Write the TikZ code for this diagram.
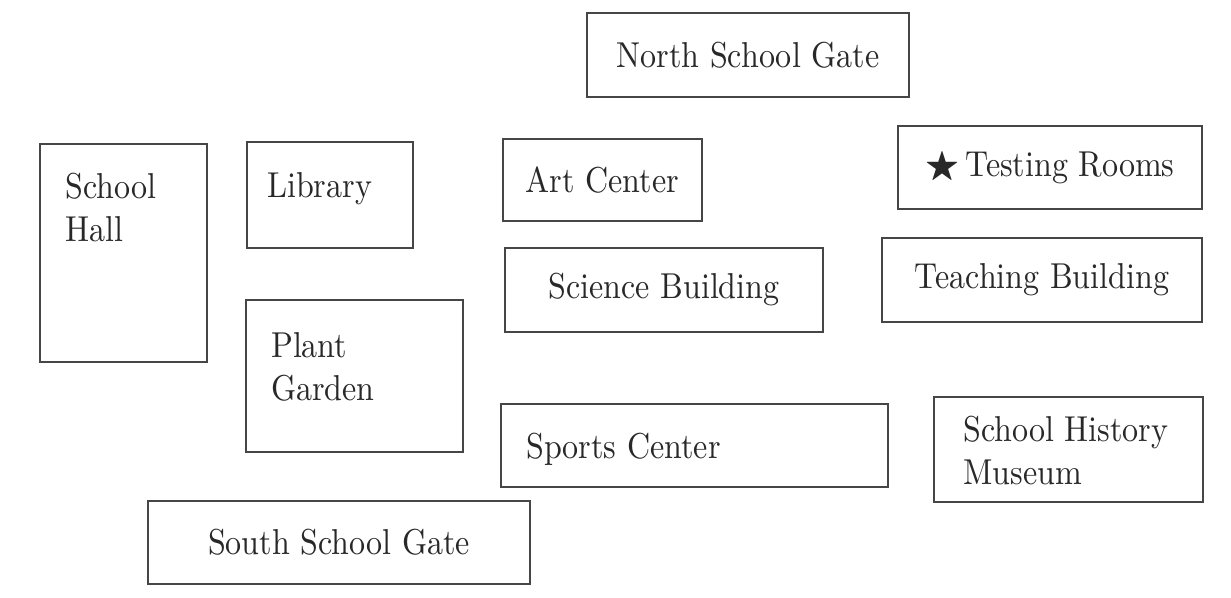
\documentclass[tikz,border=0pt]{standalone}
\usepackage{amssymb}
\usepackage{fontspec}
\setmainfont{lmroman10-regular}[Extension=.otf, FakeStretch=0.89]
\usetikzlibrary{positioning}
\definecolor{mapline}{RGB}{70,70,70}
\definecolor{maptext}{RGB}{40,40,40}

\begin{document}
\begin{tikzpicture}[x=1pt, y=-1pt,
  bldg/.style={draw=mapline, line width=1.4pt, inner sep=0pt, align=center,
    text=maptext, font=\fontsize{36}{43}\selectfont},
  lbl/.style={inner sep=0pt, align=left, text=maptext,
    font=\fontsize{36}{43}\selectfont}
]
  \useasboundingbox (0,0) rectangle (1231,597);

  \node[bldg, minimum width=322, minimum height=84] (north) at (748,55) {North School Gate};
  \node[bldg, minimum width=167, minimum height=218] (hall) at (123.5,253) {};
  \node[bldg, minimum width=166, minimum height=106] (library) at (330,195) {};
  \node[bldg, minimum width=199, minimum height=82] (art) at (602.5,180) {Art Center};
  \node[bldg, minimum width=304, minimum height=83] (testing) at (1050,167.5) {$\bigstar$\,Testing Rooms};
  \node[bldg, minimum width=318, minimum height=84] (science) at (664,290) {Science Building};
  \node[bldg, minimum width=320, minimum height=84] (teaching) at (1042,280) {Teaching Building};
  \node[bldg, minimum width=217, minimum height=152] (garden) at (354.5,376) {};
  \node[bldg, minimum width=387, minimum height=83] (sports) at (694.5,445.5) {};
  \node[bldg, minimum width=269, minimum height=105] (museum) at (1068.5,449.5) {};
  \node[bldg, minimum width=382, minimum height=83] (south) at (339,542.5) {South School Gate};

  % left-set names
  \node[lbl, anchor=north west] (hallname) at (65,173) {School\\Hall};
  \node[lbl, anchor=base west] (libname) at (267,197) {Library};
  \node[lbl, anchor=north west] (gardenname) at (271,332) {Plant\\Garden};
  \node[lbl, anchor=base west] (sportsname) at (526,458) {Sports Center};
  \node[lbl, anchor=north west] (museumname) at (963,416) {School History\\Museum};
\end{tikzpicture}
\end{document}
